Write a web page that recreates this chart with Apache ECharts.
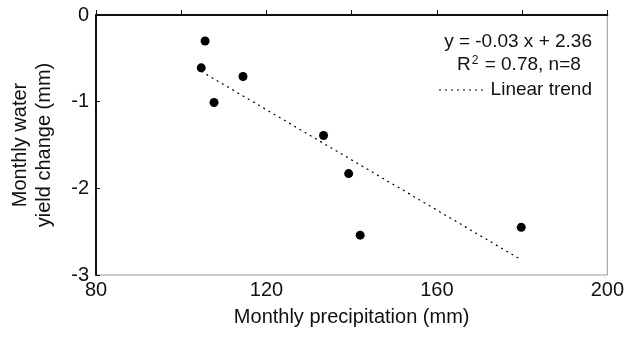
<!DOCTYPE html>
<html>
<head>
<meta charset="utf-8">
<script src="https://cdn.jsdelivr.net/npm/echarts@6/dist/echarts.min.js"></script>
<style>html,body{margin:0;padding:0;background:#fff}#c{width:627px;height:338px}</style>
</head>
<body>
<div id="c"></div>
<script>
const precipitation = [105.6, 104.7, 114.5, 107.7, 133.4, 139.3, 142.0, 179.8];
const yieldChange = [-0.30, -0.61, -0.71, -1.01, -1.39, -1.83, -2.54, -2.45];
const trendX = [104.7, 179.3];
const trendY = [-0.65, -2.81];
const equationText = 'y = -0.03 x + 2.36';
const r2Text = '{n|R}{s|2}{n| = 0.78, n=8}';
const trendName = 'Linear trend';

const FONT = 'Liberation Sans, Arial, sans-serif';
const DOT = [2, 4];
const chart = echarts.init(document.getElementById('c'), null, {renderer: 'canvas'});
chart.setOption({
  animation: false,
  backgroundColor: '#fff',
  textStyle: {fontFamily: FONT},
  grid: {left: 92, right: 19, top: 15, bottom: 63, show: true, borderColor: '#999', borderWidth: 1},
  graphic: [
    {type: 'text', right: 35, top: 32, style: {text: equationText, fontSize: 19, fill: '#111', fontFamily: FONT}},
    {type: 'text', left: 457, top: 55, style: {text: r2Text, fontFamily: FONT,
      rich: {n: {fontSize: 19, fill: '#111', fontFamily: FONT}, s: {fontSize: 12, verticalAlign: 'top', padding: [0,1,8,1], fill: '#111', fontFamily: FONT}}}},
    {type: 'line', shape: {x1: 439, y1: 90, x2: 484, y2: 90}, style: {stroke: '#000', lineWidth: 1.2, lineDash: DOT}},
    {type: 'text', right: 35, top: 80, style: {text: trendName, fontSize: 19, fill: '#111', fontFamily: FONT}}
  ],
  xAxis: {
    type: 'value', min: 80, max: 200, interval: 20,
    name: 'Monthly precipitation (mm)', nameLocation: 'middle', nameGap: 32,
    nameTextStyle: {fontSize: 20, color: '#111', fontFamily: FONT},
    axisLine: {lineStyle: {color: '#111', width: 2}},
    axisTick: {inside: true, length: 5, lineStyle: {color: '#111', width: 1}},
    axisLabel: {fontSize: 20, color: '#111', margin: 5, fontFamily: FONT,
      formatter: v => (v % 40 === 0 ? String(v) : '')},
    splitLine: {show: false}
  },
  yAxis: {
    type: 'value', min: -3, max: 0, interval: 1,
    name: 'Monthly water\nyield change (mm)', nameLocation: 'middle', nameGap: 40,
    nameTextStyle: {fontSize: 20, color: '#111', lineHeight: 24, fontFamily: FONT},
    axisLine: {show: true, lineStyle: {color: '#111', width: 2}},
    axisTick: {show: true, inside: true, length: 4, lineStyle: {color: '#111', width: 1}},
    axisLabel: {fontSize: 20, color: '#111', margin: 7, fontFamily: FONT},
    splitLine: {show: false}
  },
  series: [
    {
      type: 'scatter', name: 'data', symbolSize: 9,
      itemStyle: {color: '#000', opacity: 1},
      data: precipitation.map((x, i) => [x, yieldChange[i]]),
      z: 3
    },
    {
      type: 'line', name: trendName, symbol: 'none',
      lineStyle: {color: '#000', width: 1.2, type: DOT},
      data: trendX.map((x, i) => [x, trendY[i]]),
      z: 2
    }
  ]
});
</script>
</body>
</html>
